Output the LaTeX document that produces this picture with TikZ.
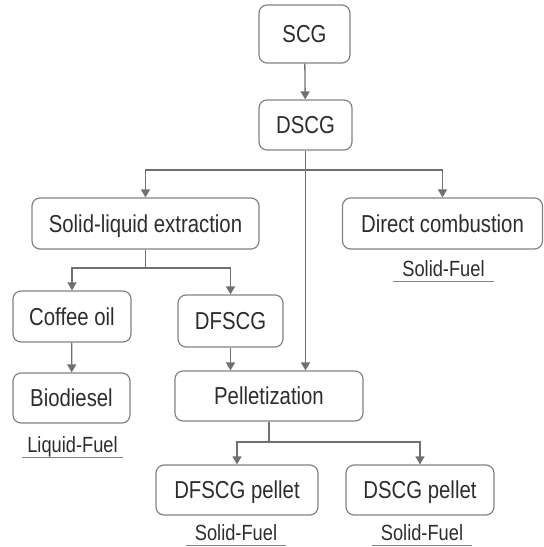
\documentclass[tikz,border=0pt]{standalone}
\usepackage{fontspec}
\setmainfont[FakeStretch=0.83]{Liberation Sans}
\usepackage{tikz}
\usetikzlibrary{arrows.meta}
\definecolor{boxgray}{RGB}{130,130,130}
\definecolor{linegray}{RGB}{112,112,112}
\definecolor{txtgray}{RGB}{45,45,45}
\tikzset{
  stage/.style={draw=boxgray, line width=1.2pt, rounded corners=8pt, text=txtgray,
    font=\fontsize{24.5}{28}\selectfont, text height=17.5pt, text depth=0pt,
    inner sep=0pt, minimum height=50pt},
  fuel/.style={text=txtgray, font=\fontsize{22}{26}\selectfont, text height=16pt,
    text depth=5pt, inner sep=0pt, minimum width=100pt},
  flow/.style={linegray, line width=1.3pt},
  uline/.style={boxgray, line width=1pt},
}

\begin{document}
\begin{tikzpicture}[x=1pt, y=-1pt, >={Triangle[length=8pt,width=9pt]}]
\useasboundingbox (0,0) rectangle (544,547);
\node[stage, minimum width=91pt, minimum height=58pt] (scg) at (304.5,34) {SCG};
\node[stage, minimum width=93pt] (dscg) at (305.5,125) {DSCG};
\node[stage, minimum width=227pt, minimum height=51pt] (sle) at (145.5,223.5) {Solid-liquid extraction};
\node[stage, minimum width=200pt, minimum height=51pt] (dc) at (442.5,223.5) {Direct combustion};
\node[stage, minimum width=118pt, minimum height=51pt] (oil) at (72,316.5) {Coffee oil};
\node[stage, minimum width=105pt, minimum height=52pt] (dfscg) at (230.5,321) {DFSCG};
\node[stage, minimum width=117pt] (bio) at (71.5,398) {Biodiesel};
\node[stage, minimum width=188pt] (pel) at (269,396) {Pelletization};
\node[stage, minimum width=162pt] (dfp) at (237,490) {DFSCG pellet};
\node[stage, minimum width=148pt] (dsp) at (420,490) {DSCG pellet};

\node[fuel] (sf1) at (443.5,270.5) {Solid-Fuel};
\node[fuel] (lf) at (72.5,446.5) {Liquid-Fuel};
\node[fuel] (sf2) at (236,535) {Solid-Fuel};
\node[fuel] (sf3) at (422,534.5) {Solid-Fuel};
\foreach \f in {sf1,lf,sf2,sf3} {
  \draw[uline] (\f.south west)--(\f.south east);
}

\coordinate (j1) at (dscg.south |- 0,170);
\coordinate (j2) at (sle.south |- 0,268);
\coordinate (j3) at (pel.south |- 0,442);

\draw[flow,->] (scg)--(dscg);
\draw[flow,->] (dscg.south)--(dscg.south |- pel.north);
\draw[flow,->] (j1) -| (sle.north);
\draw[flow,->] (j1) -| (dc.north);
\draw[flow] (sle.south)--(j2);
\draw[flow,->] (j2) -| (oil.north);
\draw[flow,->] (j2) -| (dfscg.north);
\draw[flow,->] (oil)--(bio);
\draw[flow,->] (dfscg.south)--(dfscg.south |- pel.north);
\draw[flow] (pel.south)--(j3);
\draw[flow,->] (j3) -| (dfp.north);
\draw[flow,->] (j3) -| (dsp.north);
\end{tikzpicture}
\end{document}
